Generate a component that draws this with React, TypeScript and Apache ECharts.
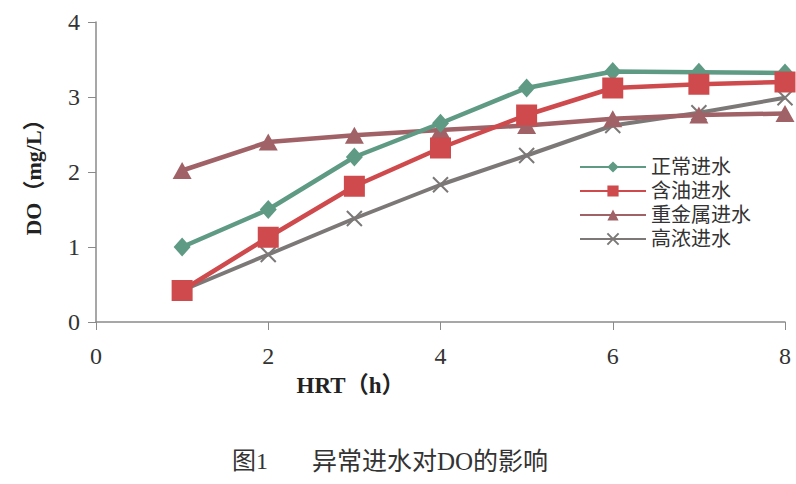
import React, { useEffect, useRef } from "react";
import * as echarts from "echarts";

const hrt = [1, 2, 3, 4, 5, 6, 7, 8];
const normal = [1.0, 1.5, 2.2, 2.65, 3.12, 3.34, 3.33, 3.32];
const oily = [0.42, 1.13, 1.81, 2.32, 2.76, 3.12, 3.17, 3.2];
const heavyMetal = [2.02, 2.4, 2.49, 2.56, 2.62, 2.71, 2.76, 2.78];
const highConc = [0.42, 0.9, 1.38, 1.83, 2.22, 2.62, 2.79, 2.99];
const seriesNames = ["正常进水", "含油进水", "重金属进水", "高浓进水"];
const yTicks = [0, 1, 2, 3, 4];
const xTicks = [0, 2, 4, 6, 8];

const serif = "'Liberation Serif', 'Times New Roman', 'Noto Sans CJK SC', serif";

export default function App() {
  const ref = useRef<HTMLDivElement>(null);
  useEffect(() => {
    if (!ref.current) return;
    const chart = echarts.init(ref.current, null, { renderer: "svg" });
    const pair = (ys: number[]) => hrt.map((x, i) => [x, ys[i]]);
    chart.setOption({
      animation: false,
      backgroundColor: "#ffffff",
      grid: { left: 96, top: 22, width: 689, height: 300, containLabel: false },
      legend: {
        orient: "vertical",
        left: 574,
        top: 152,
        itemWidth: 66,
        itemHeight: 14,
        itemGap: 4,
        textStyle: { fontFamily: serif, fontSize: 20, color: "#333" },
        data: seriesNames,
      },
      xAxis: {
        type: "value",
        min: 0,
        max: 8,
        interval: 2,
        name: "HRT（h）",
        nameLocation: "middle",
        nameGap: 52,
        nameTextStyle: {
          fontFamily: serif,
          fontSize: 23,
          fontWeight: "bold",
          color: "#222",
          padding: [0, 180, 0, 0],
        },
        axisLine: { show: true, lineStyle: { color: "#8a8a8a", width: 1.5 } },
        axisTick: { show: true, length: 8, inside: false, lineStyle: { color: "#8a8a8a" } },
        axisLabel: {
          margin: 22,
          fontFamily: serif,
          fontSize: 24,
          color: "#333",
          formatter: (v: number) => (xTicks.includes(v) ? String(v) : ""),
        },
        splitLine: { show: false },
      },
      yAxis: {
        type: "value",
        min: 0,
        max: 4,
        interval: 1,
        name: "DO（mg/L）",
        nameLocation: "middle",
        nameRotate: 90,
        nameGap: 52,
        nameTextStyle: { fontFamily: serif, fontSize: 22, fontWeight: "bold", color: "#222" },
        axisLine: { show: true, lineStyle: { color: "#8a8a8a", width: 1.5 } },
        axisTick: { show: true, length: 8, lineStyle: { color: "#8a8a8a" } },
        axisLabel: {
          margin: 16,
          fontFamily: serif,
          fontSize: 24,
          color: "#333",
          formatter: (v: number) => (yTicks.includes(v) ? String(v) : ""),
        },
        splitLine: { show: false },
      },
      series: [
        {
          name: seriesNames[0],
          type: "line",
          data: pair(normal),
          symbol: "diamond",
          symbolSize: [17, 19],
          lineStyle: { color: "#5e9a84", width: 4.5 },
          itemStyle: { color: "#5e9a84" },
          z: 4,
        },
        {
          name: seriesNames[1],
          type: "line",
          data: pair(oily),
          symbol: "rect",
          symbolSize: 21,
          lineStyle: { color: "#cf4a4c", width: 4.5 },
          itemStyle: { color: "#cf4a4c" },
          z: 5,
        },
        {
          name: seriesNames[2],
          type: "line",
          data: pair(heavyMetal),
          symbol: "triangle",
          symbolSize: [19, 17],
          lineStyle: { color: "#a06266", width: 4.5 },
          itemStyle: { color: "#a06266" },
          z: 3,
        },
        {
          name: seriesNames[3],
          type: "line",
          data: pair(highConc),
          symbol: "path://M0,0L10,10M10,0L0,10",
          symbolSize: 15,
          lineStyle: { color: "#7c7878", width: 4 },
          itemStyle: { color: "#7c7878", borderColor: "#7c7878", borderWidth: 2 },
          z: 2,
        },
      ],
      graphic: [
        {
          type: "text",
          left: 232,
          top: 449,
          style: { text: "图1", fontFamily: serif, fontSize: 24, fill: "#333" },
        },
        {
          type: "text",
          left: 312,
          top: 449,
          style: {
            text: "异常进水对DO的影响",
            fontFamily: serif,
            fontSize: 25,
            fill: "#333",
          },
        },
      ],
    });
    return () => chart.dispose();
  }, []);
  return (
    <div
      ref={ref}
      style={{ position: "fixed", left: 0, top: 0, width: 796, height: 484 }}
    />
  );
}
